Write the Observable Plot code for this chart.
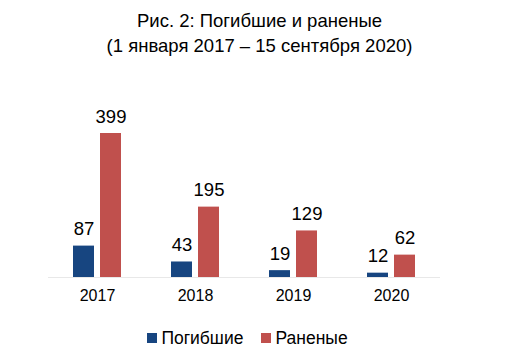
<!DOCTYPE html>
<html>
<head>
<meta charset="utf-8">
<script src="https://cdn.jsdelivr.net/npm/d3@7"></script>
<script src="https://cdn.jsdelivr.net/npm/@observablehq/plot@0.6"></script>
<style>
  body { margin: 0; background: #fff; font-family: "Liberation Sans", Arial, sans-serif; }
  #wrap { width: 519px; height: 354px; position: relative; }
  #title { position: absolute; top: 8px; left: 0; width: 519px; text-align: center; font-size: 18.5px; line-height: 25px; color: #000; }
  #chart { position: absolute; top: 60px; left: 0; }
  #legend { position: absolute; top: 326px; left: -12px; width: 519px; text-align: center; font-size: 17.5px; line-height: 24px; color: #000; }
  .sw { display: inline-block; width: 10px; height: 10px; margin-right: 4px; vertical-align: 1px; }
  .item { margin: 0 9px; }
</style>
</head>
<body>
<div id="wrap">
  <div id="title">Рис. 2: Погибшие и раненые<br>(1 января 2017 – 15 сентября 2020)</div>
  <div id="chart"></div>
  <div id="legend"></div>
</div>
<script>
const years = ["2017", "2018", "2019", "2020"];
const seriesNames = ["Погибшие", "Раненые"];
const killed = [87, 43, 19, 12];
const wounded = [399, 195, 129, 62];
const colors = ["#174580", "#c0504d"];

const data = [];
years.forEach((y, i) => {
  data.push({year: y, series: seriesNames[0], value: killed[i]});
  data.push({year: y, series: seriesNames[1], value: wounded[i]});
});

const chart = Plot.plot({
  width: 519,
  height: 255,
  marginLeft: 47,
  marginRight: 79,
  marginTop: 73,
  marginBottom: 38,
  style: {fontFamily: "Liberation Sans, Arial, sans-serif", background: "#fff"},
  fx: {domain: years, paddingInner: 0, paddingOuter: 0, label: null, axis: "bottom", tickSize: 0, tickPadding: 12},
  x: {domain: seriesNames, paddingInner: 0.214, paddingOuter: 0.863, axis: null},
  y: {domain: [0, 399], axis: null},
  color: {domain: seriesNames, range: colors},
  marks: [
    Plot.ruleY([0], {stroke: "#e8e8e8", strokeWidth: 1}),
    Plot.barY(data, {fx: "year", x: "series", y: "value", fill: "series"}),
    Plot.text(data, {fx: "year", x: "series", y: "value", text: d => String(d.value), lineAnchor: "bottom", dy: -11, fontSize: 18.5, fill: "#000"})
  ]
});
chart.querySelectorAll('[aria-label="fx-axis tick label"] text, g[aria-label="fx-axis tick label"]').forEach(el => { el.style.fontSize = "16px"; });
document.getElementById("chart").appendChild(chart);

const legend = document.getElementById("legend");
seriesNames.forEach((s, i) => {
  const span = document.createElement("span");
  span.className = "item";
  span.innerHTML = `<span class="sw" style="background:${colors[i]}"></span>${s}`;
  legend.appendChild(span);
});
</script>
</body>
</html>
